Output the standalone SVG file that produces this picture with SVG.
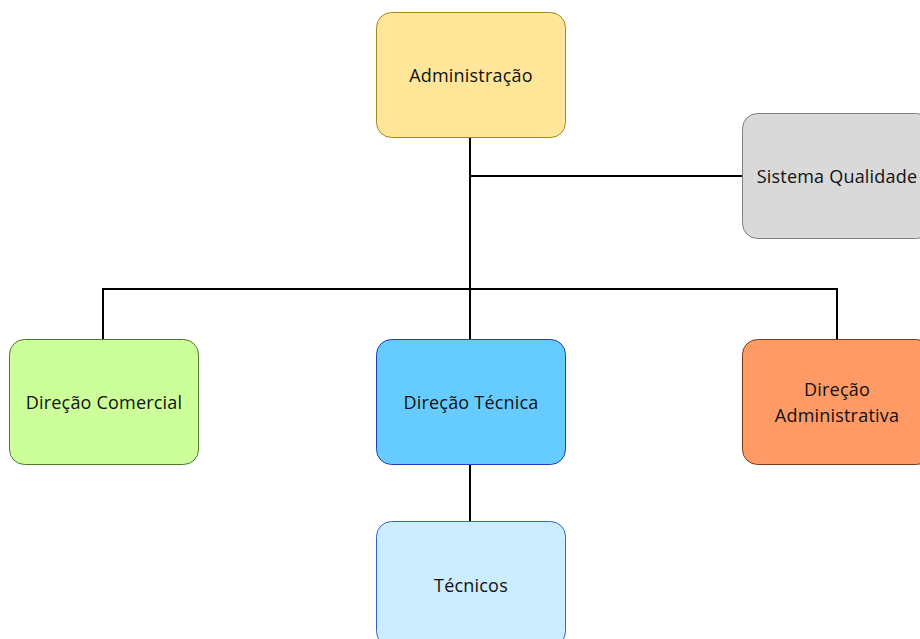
<svg xmlns="http://www.w3.org/2000/svg" width="920" height="639" viewBox="0 0 920 639">
  <style>
    .box { stroke-width: 1; }
    .lbl { font-family: "Open Sans", "Liberation Sans", sans-serif; font-size: 18px; letter-spacing: 0.2px; fill: #111; text-anchor: middle; }
    .conn { stroke: #000; stroke-width: 2; fill: none; }
  </style>
  <rect width="920" height="639" fill="#fff"/>

  <!-- connectors -->
  <g id="connectors">
    <path class="conn" d="M470 137 V339"/>
    <path class="conn" d="M470 176 H742"/>
    <path class="conn" d="M103 339 V289 H837 V339"/>
    <path class="conn" d="M470 464 V521"/>
  </g>

  <g id="administracao">
    <rect class="box" x="376.5" y="12.5" width="189" height="125" rx="15" fill="#FFE699" stroke="#A6851C"/>
    <text class="lbl" x="471" y="82">Administração</text>
  </g>

  <g id="sistema-qualidade">
    <rect class="box" x="742.5" y="113.5" width="189" height="125" rx="15" fill="#D9D9D9" stroke="#7F7F7F"/>
    <text class="lbl" x="837" y="183">Sistema Qualidade</text>
  </g>

  <g id="direcao-comercial">
    <rect class="box" x="9.5" y="339.5" width="189" height="125" rx="15" fill="#CCFF99" stroke="#4E7A2E"/>
    <text class="lbl" x="104" y="409">Direção Comercial</text>
  </g>

  <g id="direcao-tecnica">
    <rect class="box" x="376.5" y="339.5" width="189" height="125" rx="15" fill="#66CCFF" stroke="#1F3FBF"/>
    <text class="lbl" x="471" y="409">Direção Técnica</text>
  </g>

  <g id="direcao-administrativa">
    <rect class="box" x="742.5" y="339.5" width="189" height="125" rx="15" fill="#FF9966" stroke="#7A3A18"/>
    <text class="lbl" x="837" y="396">Direção</text>
    <text class="lbl" x="837" y="422">Administrativa</text>
  </g>

  <g id="tecnicos">
    <rect class="box" x="376.5" y="521.5" width="189" height="125" rx="15" fill="#CCECFF" stroke="#3366CC"/>
    <text class="lbl" x="471" y="592">Técnicos</text>
  </g>
</svg>
